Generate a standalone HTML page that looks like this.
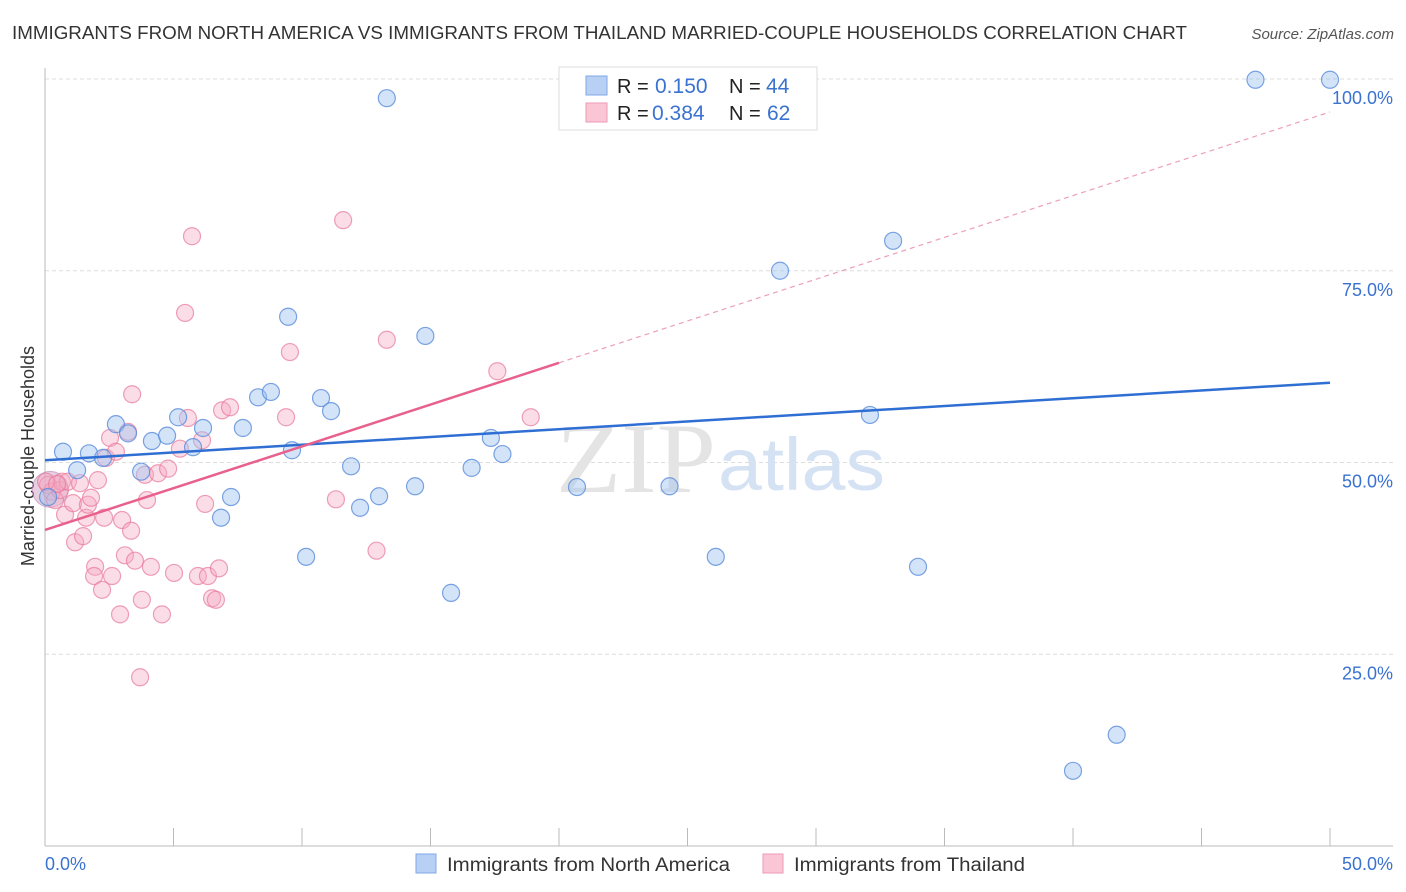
<!DOCTYPE html>
<html><head><meta charset="utf-8">
<style>
body{margin:0;background:#fff;font-family:"Liberation Sans",sans-serif;}
svg{display:block}
</style></head>
<body>
<svg id="chart" width="1406" height="892">
  <text x="12" y="39" font-size="18" fill="#333" textLength="1175" lengthAdjust="spacingAndGlyphs">IMMIGRANTS FROM NORTH AMERICA VS IMMIGRANTS FROM THAILAND MARRIED-COUPLE HOUSEHOLDS CORRELATION CHART</text>
  <text x="1394" y="39" font-size="15" fill="#555" font-style="italic" text-anchor="end">Source: ZipAtlas.com</text>
  <g id="grid"></g>
  <text x="716" y="492" font-size="100" fill="#e4e4e4" font-family="Liberation Serif,serif" text-anchor="end" textLength="160" lengthAdjust="spacingAndGlyphs">ZIP</text>
  <text x="718" y="490" font-size="74" fill="#d4e2f4" textLength="167" lengthAdjust="spacingAndGlyphs">atlas</text>
  <line x1="45" y1="68" x2="45" y2="846" stroke="#bbb"/>
  <line x1="45" y1="846" x2="1393" y2="846" stroke="#bbb"/>
  <g id="ticks"></g>
  <text x="34" y="456" font-size="18" fill="#333" text-anchor="middle" transform="rotate(-90 34 456)">Married-couple Households</text>
  <g id="points"></g>
  <g id="lines"></g>
  <g>
    <rect x="559" y="67" width="258" height="63" fill="#fff" stroke="#ddd"/>
    <rect x="586" y="76" width="21" height="19" fill="#b7d0f4" stroke="#7fa8e6"/>
    <rect x="586" y="103" width="21" height="19" fill="#fac5d5" stroke="#ee9ab4"/>
    <text x="617" y="93" font-size="20" fill="#222">R = </text>
    <text x="655" y="93" font-size="21" fill="#3a72d0">0.150</text>
    <text x="729" y="93" font-size="20" fill="#222">N = </text>
    <text x="766" y="93" font-size="21" fill="#3a72d0">44</text>
    <text x="617" y="120" font-size="20" fill="#222">R = </text>
    <text x="652" y="120" font-size="21" fill="#3a72d0">0.384</text>
    <text x="729" y="120" font-size="20" fill="#222">N = </text>
    <text x="767" y="120" font-size="21" fill="#3a72d0">62</text>
  </g>
  <g>
    <rect x="416" y="854" width="20" height="19" fill="#b7d0f4" stroke="#7fa8e6"/>
    <text x="447" y="871" font-size="19" fill="#333" textLength="283" lengthAdjust="spacingAndGlyphs">Immigrants from North America</text>
    <rect x="763" y="854" width="20" height="19" fill="#fac5d5" stroke="#ee9ab4"/>
    <text x="794" y="871" font-size="19" fill="#333" textLength="231" lengthAdjust="spacingAndGlyphs">Immigrants from Thailand</text>
  </g>
  <text x="45" y="870" font-size="18" fill="#3a72d0">0.0%</text>
  <text x="1393" y="870" font-size="18" fill="#3a72d0" text-anchor="end">50.0%</text>
</svg>
<script>
const yTicks=[100,75,50,25];
const yTickLabels=["100.0%","75.0%","50.0%","25.0%"];
const blueX=[0.70,1.25,1.71,2.26,2.76,3.23,3.74,4.16,4.75,5.18,5.76,6.15,6.85,7.24,7.70,8.29,8.79,9.46,9.61,10.16,10.74,11.13,11.91,12.26,13.0,13.3,14.4,14.8,15.8,16.6,17.35,17.8,20.7,24.3,26.1,28.6,32.1,33.0,33.97,40.0,41.7,47.1,50.0,0.12];
const blueY=[51.4,49.0,51.2,50.6,55.0,53.8,48.8,52.8,53.5,55.9,52.0,54.5,42.8,45.5,54.5,58.5,59.2,69.0,51.6,37.7,58.4,56.7,49.5,44.1,45.6,97.5,46.9,66.5,33.0,49.3,53.2,51.1,46.8,46.9,37.7,75.0,56.2,78.9,36.4,9.8,14.5,99.9,99.9,45.5];
const pinkX=[0.12,0.27,0.39,0.58,0.66,0.78,0.89,1.09,1.17,1.36,1.48,1.60,1.67,1.79,1.95,1.91,2.06,2.22,2.30,2.37,2.53,2.61,2.76,2.92,3.0,3.11,3.23,3.35,3.39,3.50,3.70,3.77,3.89,3.97,4.12,4.40,4.55,4.79,5.02,5.25,5.45,5.56,5.72,5.95,6.11,6.23,6.34,6.50,6.65,6.77,6.89,7.20,9.38,9.53,11.32,11.6,12.9,13.3,17.6,18.9,0.04,0.47];
const pinkY=[47.1,46.2,45.1,46.4,47.5,43.2,47.5,44.7,39.6,47.3,40.4,42.8,44.5,45.4,36.4,35.2,47.7,33.4,42.8,50.6,53.2,35.2,51.4,30.2,42.5,37.9,54.0,41.1,58.9,37.2,22.0,32.1,48.4,45.1,36.4,48.6,30.2,49.2,35.6,51.8,69.5,55.8,79.5,35.2,52.9,44.6,35.2,32.3,32.1,36.2,56.8,57.2,55.9,64.4,45.2,81.6,38.5,66.0,61.9,55.9,47.5,47.2];
const blueTrend=[50.3,60.4];
const pinkTrend=[41.2,95.7];
const pinkSolidEnd=20.0;

const NS="http://www.w3.org/2000/svg";
const xs=v=>45+v*25.7;
const ys=v=>846-v*7.67;
function mk(tag,attrs,parent){const e=document.createElementNS(NS,tag);for(const k in attrs)e.setAttribute(k,attrs[k]);parent.appendChild(e);return e;}
const grid=document.getElementById('grid'),ticks=document.getElementById('ticks'),pts=document.getElementById('points'),lines=document.getElementById('lines');
yTicks.forEach((t,i)=>{
  const l=mk('line',{x1:45,x2:1393,y1:ys(t),y2:ys(t),stroke:'#ddd','stroke-dasharray':'4,3'},grid);
  
  
  const tx=mk('text',{x:1393,y:ys(t)+25,'font-size':18,fill:'#3a72d0','text-anchor':'end'},ticks);
  tx.textContent=yTickLabels[i];
  
  
});
for(let i=0;i<=10;i++){
  const l=mk('line',{x1:xs(i*5),x2:xs(i*5),y1:828,y2:846,stroke:'#bbb'},ticks);
  
  
}
const big=mk('circle',{cx:xs(0.2),cy:ys(46.5),r:18,fill:'rgba(200,150,190,0.45)',stroke:'rgba(190,130,180,0.6)'},pts);


pinkX.forEach((x,i)=>{
  const c=mk('circle',{cx:xs(x),cy:ys(pinkY[i]),r:8.5,fill:'rgba(246,170,195,0.4)',stroke:'rgba(232,120,155,0.7)','stroke-width':1.2},pts);
  
  
});
blueX.forEach((x,i)=>{
  const c=mk('circle',{cx:xs(x),cy:ys(blueY[i]),r:8.5,fill:'rgba(160,195,240,0.45)',stroke:'rgba(90,140,220,0.8)','stroke-width':1.2},pts);
  
  
});
const pv=x=>pinkTrend[0]+(pinkTrend[1]-pinkTrend[0])*x/50;
const bl=mk('line',{x1:xs(0),y1:ys(blueTrend[0]),x2:xs(50),y2:ys(blueTrend[1]),stroke:'#2f6fd3','stroke-width':2.5},lines);


const pl=mk('line',{x1:xs(0),y1:ys(pv(0)),x2:xs(pinkSolidEnd),y2:ys(pv(pinkSolidEnd)),stroke:'#e8618d','stroke-width':2.5},lines);


const pd=mk('line',{x1:xs(pinkSolidEnd),y1:ys(pv(pinkSolidEnd)),x2:xs(50),y2:ys(pv(50)),stroke:'#eda0b8','stroke-width':1.2,'stroke-dasharray':'5,4'},lines);


</script>
</body></html>
